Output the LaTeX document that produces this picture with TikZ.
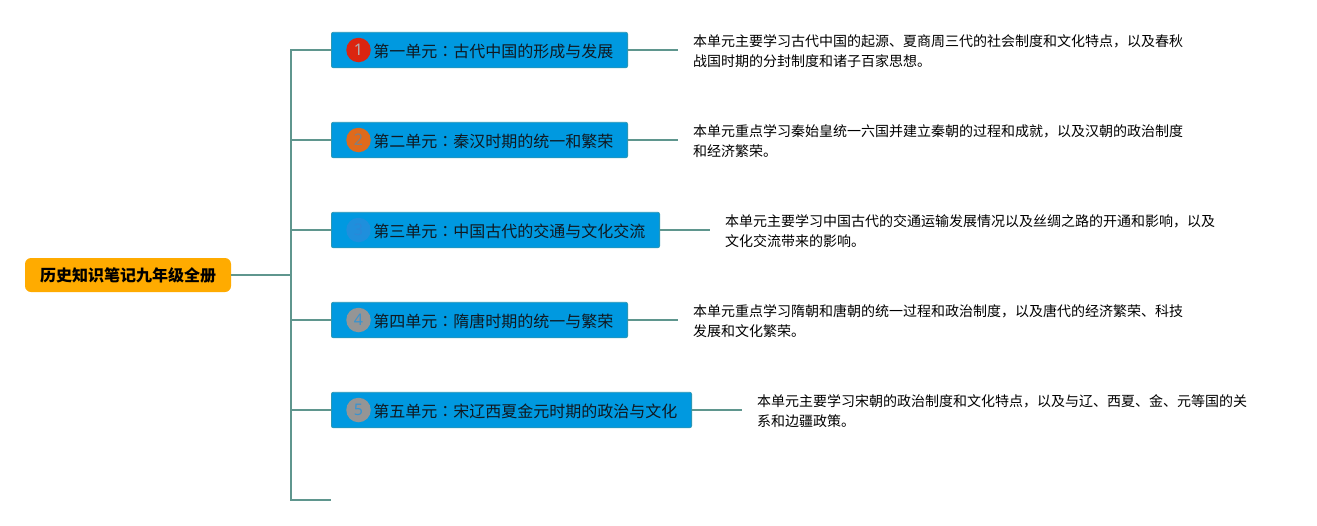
\documentclass[tikz,border=0pt]{standalone}
\usepackage{fontspec}
\setmainfont{Noto Sans CJK SC}
\newfontfamily\tcfont{Noto Sans CJK TC}
\newfontfamily\digitfont{Noto Sans}
\definecolor{linecol}{HTML}{5F968E}
\definecolor{boxfill}{HTML}{0099E0}
\definecolor{boxedge}{HTML}{2A97B5}
\definecolor{rootfill}{HTML}{FFAB00}
\definecolor{titlecol}{HTML}{101820}
\definecolor{badgeone}{HTML}{DB2510}
\definecolor{badgetwo}{HTML}{DF6A1C}
\definecolor{badgethree}{HTML}{1F8FDC}
\definecolor{digitthree}{HTML}{2A88D8}
\definecolor{badgegray}{HTML}{959595}
\definecolor{digitblue}{HTML}{3A93CF}
\newcommand{\unitcolon}{{\tcfont ：}}
\newcommand{\unittext}[1]{\hspace*{27pt}#1\hspace*{-.8pt}}
\tikzset{
  link/.style={draw=linecol,line width=1.6pt},
  rootbox/.style={draw=none,fill=rootfill,rounded corners=6pt,minimum width=206pt,minimum height=34pt,inner sep=0pt,font=\fontsize{16}{16}\selectfont\bfseries,text=black},
  unitbox/.style={draw=boxedge,line width=.8pt,fill=boxfill,rounded corners=2pt,minimum height=35.5pt,inner ysep=0pt,inner xsep=15pt,text height=15pt,text depth=1pt,anchor=west,font=\fontsize{16}{16}\selectfont,text=titlecol},
  descbox/.style={anchor=west,inner xsep=15pt,inner ysep=0pt,align=left,font=\fontsize{14}{20}\selectfont,text=black},
  badge/.style={circle,minimum size=24.5pt,inner sep=0pt,font=\digitfont\fontsize{16}{16}\selectfont}
}
\begin{document}
\begin{tikzpicture}[x=1pt,y=-1pt]
\useasboundingbox (0,0) rectangle (1317,525);
\node[rootbox] (root) at (128,275) {历史知识笔记九年级全册};
\node[unitbox] (u1) at (331,50) {\unittext{第一单元\unitcolon 古代中国的形成与发展}};
\node[unitbox] (u2) at (331,140) {\unittext{第二单元\unitcolon 秦汉时期的统一和繁荣}};
\node[unitbox] (u3) at (331,230) {\unittext{第三单元\unitcolon 中国古代的交通与文化交流}};
\node[unitbox] (u4) at (331,320) {\unittext{第四单元\unitcolon 隋唐时期的统一与繁荣}};
\node[unitbox] (u5) at (331,410) {\unittext{第五单元\unitcolon 宋辽西夏金元时期的政治与文化}};
\node[badge,fill=badgeone,text=gray!60] (b1) at (358.5,50) {1};
\node[badge,fill=badgetwo,text=gray] (b2) at (358.5,140) {2};
\node[badge,fill=badgethree,text=digitthree] (b3) at (358.5,230) {3};
\node[badge,fill=badgegray,text=digitblue] (b4) at (358.5,320) {4};
\node[badge,fill=badgegray,text=digitblue] (b5) at (358.5,410) {5};
\node[descbox] (d1) at (678,51.5) {本单元主要学习古代中国的起源、夏商周三代的社会制度和文化特点，以及春秋\\战国时期的分封制度和诸子百家思想。};
\node[descbox] (d2) at (678,141.5) {本单元重点学习秦始皇统一六国并建立秦朝的过程和成就，以及汉朝的政治制度\\和经济繁荣。};
\node[descbox] (d3) at (710,231.5) {本单元主要学习中国古代的交通运输发展情况以及丝绸之路的开通和影响，以及\\文化交流带来的影响。};
\node[descbox] (d4) at (678,321.5) {本单元重点学习隋朝和唐朝的统一过程和政治制度，以及唐代的经济繁荣、科技\\发展和文化繁荣。};
\node[descbox] (d5) at (742,411.5) {本单元主要学习宋朝的政治制度和文化特点，以及与辽、西夏、金、元等国的关\\系和边疆政策。};
\coordinate (t0) at (291,275);
\coordinate (t1) at (291,50);
\coordinate (t6) at (291,500);
\coordinate (stub) at (331,500);
\draw[link] (root.east) -- (t0);
\draw[link] (u1.west) -- (t1) -- (t6) -- (stub);
\draw[link] (u2.west) -- (t1 |- u2.west);
\draw[link] (u3.west) -- (t1 |- u3.west);
\draw[link] (u4.west) -- (t1 |- u4.west);
\draw[link] (u5.west) -- (t1 |- u5.west);
\draw[link] (u1.east) -- (u1.east -| d1.west);
\draw[link] (u2.east) -- (u2.east -| d2.west);
\draw[link] (u3.east) -- (u3.east -| d3.west);
\draw[link] (u4.east) -- (u4.east -| d4.west);
\draw[link] (u5.east) -- (u5.east -| d5.west);
\end{tikzpicture}
\end{document}
